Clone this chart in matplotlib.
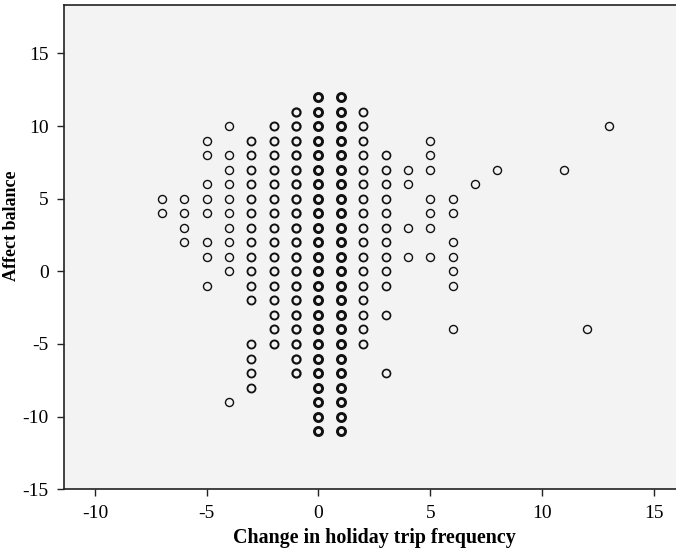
import matplotlib
matplotlib.use("Agg")
import matplotlib.pyplot as plt

# Affect balance values observed at each change in holiday trip frequency
x_values = [-7, -6, -5, -4, -3, -2, -1, 0, 1, 2, 3, 4, 5, 6, 7, 8, 11, 12, 13]
y_by_x = {
    -7: [5, 4],
    -6: [5, 4, 3, 2],
    -5: [9, 8, 6, 5, 4, 2, 1, -1],
    -4: [10, 8, 7, 6, 5, 4, 3, 2, 1, 0, -9],
    -3: [9, 8, 7, 6, 5, 4, 3, 2, 1, 0, -1, -2, -5, -6, -7, -8],
    -2: [10, 9, 8, 7, 6, 5, 4, 3, 2, 1, 0, -1, -2, -3, -4, -5],
    -1: [11, 10, 9, 8, 7, 6, 5, 4, 3, 2, 1, 0, -1, -2, -3, -4, -5, -6, -7],
    0: list(range(12, -12, -1)),
    1: list(range(12, -12, -1)),
    2: [11, 10, 9, 8, 7, 6, 5, 4, 3, 2, 1, 0, -1, -2, -3, -4, -5],
    3: [8, 7, 6, 5, 4, 3, 2, 1, 0, -1, -3, -7],
    4: [7, 6, 3, 1],
    5: [9, 8, 7, 5, 4, 3, 1],
    6: [5, 4, 2, 1, 0, -1, -4],
    7: [6],
    8: [7],
    11: [7],
    12: [-4],
    13: [10],
}
x_ticks = [-10, -5, 0, 5, 10, 15]
y_ticks = [-15, -10, -5, 0, 5, 10, 15]

# marker edge weight per column (darker where many cases overlap)
edge_w = {-1: 1.6, 0: 2.1, 1: 2.1, -2: 1.4, -3: 1.3, 2: 1.3, 3: 1.2}

plt.rcParams['font.family'] = ['Liberation Serif', 'DejaVu Serif']
plt.rcParams['axes.unicode_minus'] = False

fig = plt.figure(figsize=(6.76, 5.52), dpi=100)
ax = fig.add_axes([64/676, (552-489.3)/552, (676-64)/676, (489.3-5)/552])
ax.set_facecolor('#f3f3f3')

for xv in x_values:
    ys = y_by_x[xv]
    ax.plot([xv]*len(ys), ys, linestyle='none', marker='o', markersize=5.8,
            markerfacecolor='none', markeredgecolor='#111111',
            markeredgewidth=edge_w.get(xv, 1.0))

ax.set_xlim(-11.39, 16.0)
ax.set_ylim(-15, 18.33)
ax.set_xticks(x_ticks)
ax.set_yticks(y_ticks)
ax.tick_params(direction='out', length=5, width=1.0, labelsize=14, pad=6, color='#222222')
ax.spines['right'].set_visible(False)
for s in ['left', 'bottom', 'top']:
    ax.spines[s].set_linewidth(1.2)
    ax.spines[s].set_color('#222222')

fig.text(374.5/676, 1 - 538/552, 'Change in holiday trip frequency', fontsize=14.4,
         fontweight='bold', ha='center', va='center')
fig.text(12/676, 1 - 226/552, 'Affect balance', rotation=90, fontsize=13,
         fontweight='bold', ha='center', va='center')

fig.savefig('out.png', dpi=100, facecolor='white')
